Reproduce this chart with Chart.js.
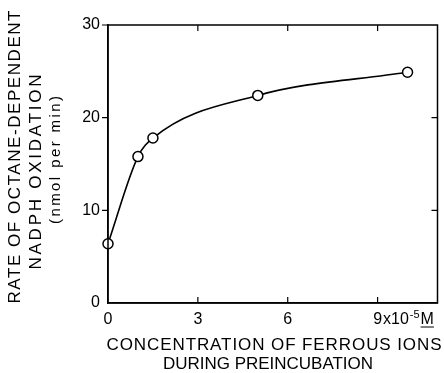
<!DOCTYPE html>
<html>
<head>
<meta charset="utf-8">
<script src="https://cdn.jsdelivr.net/npm/chart.js@4.4.0/dist/chart.umd.min.js"></script>
<style>
  html, body { margin: 0; padding: 0; background: #fff; }
  #wrap { width: 444px; height: 373px; position: relative; }
</style>
</head>
<body>
<div id="wrap"><canvas id="chart"></canvas></div>
<script>
// data
const concentration = [0, 1, 1.5, 5, 10];      // x10^-5 M
const rate = [6.4, 15.8, 17.8, 22.4, 24.9];     // nmol per min
const xTicks = [0, 3, 6, 9];
const yTicks = [0, 10, 20, 30];

const FONT = "'Liberation Sans', Arial, sans-serif";

// draw text stretched to a given width with letter spacing
function spacedText(ctx, text, cx, y, width) {
    ctx.letterSpacing = '0px';
    const w = ctx.measureText(text).width;
    const ls = (width - w) / (text.length - 1);
    ctx.letterSpacing = ls + 'px';
    ctx.textAlign = 'left';
    ctx.fillText(text, cx - width / 2, y);
    ctx.letterSpacing = '0px';
}

const framePlugin = {
    id: 'frame',
    afterDraw(chart) {
        const ctx = chart.ctx;
        const a = chart.chartArea;
        const xs = chart.scales.x, ys = chart.scales.y;
        ctx.save();
        ctx.strokeStyle = '#000';
        ctx.lineWidth = 1.5;
        ctx.strokeRect(a.left, a.top, a.right - a.left, a.bottom - a.top);

        // tick marks
        ctx.lineWidth = 1.2;
        ctx.beginPath();
        xTicks.forEach(function (v) {
            if (v === 0) return;
            const px = xs.getPixelForValue(v);
            ctx.moveTo(px, a.bottom); ctx.lineTo(px, a.bottom - 6);
            ctx.moveTo(px, a.top); ctx.lineTo(px, a.top + 6);
        });
        yTicks.forEach(function (v) {
            if (v === 0) return;
            const py = ys.getPixelForValue(v);
            ctx.moveTo(a.left - 6, py); ctx.lineTo(a.left, py);
            if (v < 30) { ctx.moveTo(a.right, py); ctx.lineTo(a.right - 6, py); }
        });
        ctx.stroke();

        // unit suffix after the "9" tick label
        const p9 = xs.getPixelForValue(9);
        ctx.fillStyle = '#000';
        ctx.font = '16px ' + FONT;
        ctx.textBaseline = 'alphabetic';
        ctx.textAlign = 'left';
        const half9 = ctx.measureText('9').width / 2;
        let x = p9 + half9 + 1;
        const base = a.bottom + 21;
        ctx.fillText('x10', x, base);
        x += ctx.measureText('x10').width + 1;
        ctx.font = '11px ' + FONT;
        ctx.fillText('-5', x, base - 6);
        x += ctx.measureText('-5').width + 1;
        ctx.font = '16px ' + FONT;
        ctx.fillText('M', x, base);
        const wM = ctx.measureText('M').width;
        ctx.lineWidth = 1;
        ctx.beginPath();
        ctx.moveTo(x, base + 3); ctx.lineTo(x + wM, base + 3);
        ctx.stroke();

        // axis titles
        ctx.font = '17px ' + FONT;
        spacedText(ctx, 'CONCENTRATION OF FERROUS IONS', 274, 350, 335);
        spacedText(ctx, 'DURING PREINCUBATION', 268, 369, 210);

        ctx.save();
        ctx.translate(20, 157);
        ctx.rotate(-Math.PI / 2);
        spacedText(ctx, 'RATE OF OCTANE-DEPENDENT', 0, 0, 293);
        ctx.restore();
        ctx.save();
        ctx.translate(41, 172);
        ctx.rotate(-Math.PI / 2);
        spacedText(ctx, 'NADPH OXIDATION', 0, 0, 195);
        ctx.restore();
        ctx.save();
        ctx.translate(60, 160);
        ctx.rotate(-Math.PI / 2);
        ctx.font = '15px ' + FONT;
        spacedText(ctx, '(nmol per min)', 0, 0, 128);
        ctx.restore();
        ctx.restore();
    }
};

const ctx = document.getElementById('chart').getContext('2d');
const myChart = new Chart(ctx, {
    type: 'line',
    data: {
        datasets: [{
            data: concentration.map(function (c, i) { return { x: c, y: rate[i] }; }),
            borderColor: '#000',
            borderWidth: 1.6,
            cubicInterpolationMode: 'monotone',
            pointRadius: 5,
            pointBorderWidth: 1.5,
            pointBorderColor: '#000',
            pointBackgroundColor: '#fff',
            fill: false,
            clip: false
        }]
    },
    options: {
        responsive: true,
        maintainAspectRatio: false,
        animation: false,
        layout: { padding: { top: 25, right: 5, left: 0, bottom: 0 } },
        plugins: { legend: { display: false }, tooltip: { enabled: false } },
        scales: {
            x: {
                type: 'linear',
                min: 0,
                max: 11,
                afterBuildTicks: function (s) { s.ticks = xTicks.map(function (v) { return { value: v }; }); },
                afterFit: function (s) { s.height = 70; },
                grid: { display: false, drawTicks: false },
                border: { display: true, color: '#000', width: 1.5 },
                ticks: {
                    color: '#000',
                    font: { family: FONT, size: 16 },
                    padding: 7,
                    maxRotation: 0,
                    autoSkip: false,
                    callback: function (v) { return String(v); }
                }
            },
            y: {
                min: 0,
                max: 30,
                afterBuildTicks: function (s) { s.ticks = yTicks.map(function (v) { return { value: v }; }); },
                afterFit: function (s) { s.width = 108; },
                grid: { display: false, drawTicks: false },
                border: { display: true, color: '#000', width: 1.5 },
                ticks: {
                    color: '#000',
                    font: { family: FONT, size: 16 },
                    padding: 8,
                    callback: function (v) { return String(v); }
                }
            }
        }
    },
    plugins: [framePlugin]
});
</script>
</body>
</html>
